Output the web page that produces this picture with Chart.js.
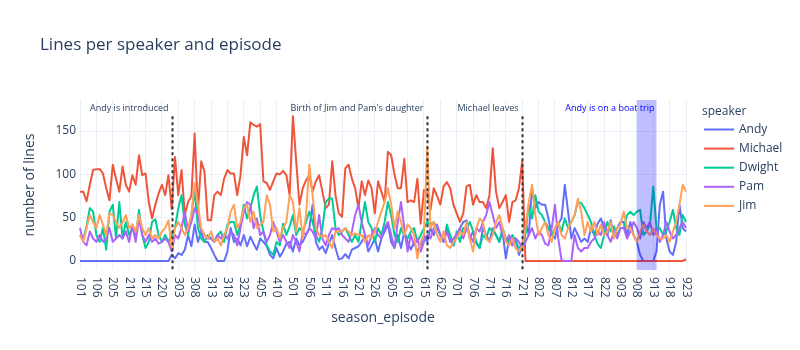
<!DOCTYPE html>
<html>
<head>
<meta charset="utf-8">
<script src="https://cdn.jsdelivr.net/npm/chart.js@4.4.0/dist/chart.umd.min.js"></script>
<style>
    html, body { margin: 0; padding: 0; background: #fff; }
    #wrap { width: 800px; height: 350px; }
</style>
</head>
<body>
<div id="wrap"><canvas id="chart" width="800" height="350"></canvas></div>
<script>
// Episodes (season + episode number), one category per episode
const episodes = [
    '101','102','103','104','105','106',
    '201','202','203','204','205','206','207','208','209','210','211','212','213','214','215','216','217','218','219','220','221','222',
    '301','302','303','304','305','306','307','308','309','310','311','312','313','314','315','316','317','318','319','320','321','322','323',
    '401','402','403','404','405','406','407','408','409','410','411','412','413','414',
    '501','502','503','504','505','506','507','508','509','510','511','512','513','514','515','516','517','518','519','520','521','522','523','524','525','526',
    '601','602','603','604','605','606','607','608','609','610','611','612','613','614','615','616','617','618','619','620','621','622','623','624',
    '701','702','703','704','705','706','707','708','709','710','711','712','713','714','715','716','717','718','719','720','721','722','723','724',
    '801','802','803','804','805','806','807','808','809','810','811','812','813','814','815','816','817','818','819','820','821','822','823','824',
    '901','902','903','904','905','906','907','908','909','910','911','912','913','914','915','916','917','918','919','920','921','922','923'
];

// Lines per episode, one array per speaker
const andy = [
    0,0,0,0,0,0,
    0,0,0,0,0,0,0,0,0,0,0,0,0,0,0,0,0,0,0,0,0,0,
    7,3,9,7,13,30,17,42,22,34,22,22,15,7,0,0,0,11,38,22,26,18,30,
    17,28,20,13,26,22,17,7,3,15,5,11,20,22,
    11,26,18,22,30,38,65,22,13,17,9,20,30,15,2,3,8,3,13,15,17,22,30,11,18,26,
    11,26,34,42,22,15,30,15,34,22,13,22,11,18,30,22,38,30,40,30,22,38,26,18,
    30,38,45,47,26,34,20,15,38,30,22,38,30,22,34,3,26,18,26,7,18,45,30,84,
    61,68,65,65,49,30,26,43,49,88,57,26,38,30,22,26,22,38,30,43,49,38,30,47,
    30,38,45,45,30,45,30,22,7,0,0,0,0,11,65,80,26,11,7,22,65,38,34
];
const michael = [
    80,80,69,88,105,106,
    106,101,84,70,111,95,80,109,88,80,99,88,122,99,101,68,49,65,78,88,76,99,
    60,120,76,105,53,68,75,147,57,115,103,47,47,76,80,76,95,105,101,101,76,99,143,
    122,160,157,155,158,92,90,82,92,101,100,104,99,76,
    167,115,65,84,93,99,80,92,99,80,61,65,115,76,55,51,107,111,95,84,61,92,76,93,84,55,
    92,80,68,126,122,100,84,84,118,68,70,68,95,43,82,78,59,84,75,65,86,91,84,65,
    55,45,55,86,88,65,76,68,68,61,76,130,80,61,68,76,45,68,70,84,115,0,0,0,
    0,0,0,0,0,0,0,0,0,0,0,0,0,0,0,0,0,0,0,0,0,0,0,0,
    0,0,0,0,0,0,0,0,0,0,0,0,0,0,0,0,0,0,0,0,0,0,2
];
const dwight = [
    30,25,40,61,57,30,
    22,38,13,57,65,26,68,26,45,30,38,26,59,30,15,22,45,48,30,22,30,22,
    30,38,61,76,42,30,53,82,38,26,22,30,26,22,30,34,22,42,45,45,30,42,65,
    49,61,76,86,53,34,18,11,7,22,18,43,30,40,
    53,30,38,34,45,57,45,30,22,38,68,72,72,38,30,34,38,30,22,30,22,45,68,45,38,22,
    38,30,45,68,53,30,22,38,30,26,34,38,22,30,38,45,42,45,38,30,22,42,30,18,
    34,22,38,38,45,34,22,15,30,26,38,34,30,22,38,26,22,30,22,15,18,30,65,49,
    76,57,53,45,38,30,38,45,34,49,38,45,53,68,67,61,53,45,30,20,15,30,45,34,
    40,30,38,38,53,57,53,57,59,30,34,42,86,38,38,30,34,45,59,38,30,53,45
];
const pam = [
    38,22,18,34,26,22,
    30,22,26,38,22,26,30,26,34,22,42,22,49,30,22,30,22,26,20,22,26,22,
    11,30,26,38,57,34,45,61,53,34,30,26,26,22,30,26,30,26,34,30,18,38,57,
    68,65,38,49,30,34,22,30,45,34,22,30,22,15,
    30,22,11,34,30,38,34,26,53,26,18,30,38,36,38,30,26,22,34,53,65,45,30,18,30,38,
    30,26,38,45,30,15,45,68,38,11,30,18,26,11,22,30,26,38,42,30,22,34,22,26,
    30,38,26,38,30,22,38,34,45,53,68,53,38,45,30,22,30,18,26,22,15,22,30,38,
    26,34,30,20,18,38,65,26,1,0,0,0,30,15,11,15,15,22,26,34,30,45,30,22,
    34,26,38,38,26,34,45,38,26,45,38,45,30,38,22,30,45,34,26,30,38,45,38
];
const jim = [
    30,22,38,53,45,38,
    53,42,30,55,53,45,38,45,53,38,42,34,53,38,30,38,26,30,26,34,38,47,
    15,38,45,38,30,38,53,90,65,38,30,26,34,22,26,18,30,38,57,65,38,45,61,
    65,45,57,38,42,45,76,65,34,38,26,38,45,76,
    68,34,61,26,53,111,76,38,30,28,30,22,15,34,34,34,38,34,30,32,30,30,22,30,26,34,
    45,57,68,84,65,38,57,45,30,42,38,30,3,22,30,132,38,45,30,22,34,18,15,22,
    26,34,30,45,26,11,38,49,45,26,22,30,45,53,38,22,18,26,15,11,17,38,68,88,
    53,30,38,45,30,22,38,45,30,26,38,45,53,72,57,30,45,34,45,30,42,30,34,45,
    26,38,42,57,38,38,30,22,34,42,34,30,38,30,26,26,30,22,34,45,65,88,80
];

const speakers = ['Andy', 'Michael', 'Dwight', 'Pam', 'Jim'];
const colors = ['#636efa', '#ef553b', '#00cc96', '#ab63fa', '#ffa15a'];
const seriesData = [andy, michael, dwight, pam, jim];

// Axis ticks
const xTickLabels = ['101','106','205','210','215','220','303','308','313','318','323','405','410',
    '501','506','511','516','521','526','605','610','615','620','701','706','711','716','721',
    '802','807','812','817','822','903','908','913','918','923'];
const yTicks = [0, 50, 100, 150];

// Events marked on the chart
const milestones = [
    { episode: '301', text: 'Andy is introduced' },
    { episode: '616', text: "Birth of Jim and Pam's daughter" },
    { episode: '721', text: 'Michael leaves' }
];
const boatTrip = { from: '908', to: '914', text: 'Andy is on a boat trip' };

const FONT = '"Open Sans", verdana, arial, sans-serif';
const TEXT_COLOR = '#2a3f5f';
const GRID_COLOR = '#ebf0f8';

Chart.defaults.font.family = FONT;
Chart.defaults.color = TEXT_COLOR;

const overlay = {
    id: 'overlay',
    beforeDraw(chart) {
        const ctx = chart.ctx;
        ctx.save();
        ctx.fillStyle = '#fff';
        ctx.fillRect(0, 0, chart.width, chart.height);
        ctx.restore();
    },
    afterDatasetsDraw(chart) {
        const { ctx, chartArea: area, scales: { x, y } } = chart;
        ctx.save();

        // boat trip band
        const bx0 = x.getPixelForValue(boatTrip.from);
        const bx1 = x.getPixelForValue(boatTrip.to);
        ctx.fillStyle = 'rgba(0, 0, 255, 0.25)';
        ctx.fillRect(bx0, area.top, bx1 - bx0, area.bottom - area.top);

        ctx.font = '9px ' + FONT;
        ctx.textBaseline = 'middle';
        ctx.textAlign = 'right';
        ctx.fillStyle = 'blue';
        ctx.fillText(boatTrip.text, bx1 - 2, area.top + 8);

        // dotted event lines, from the top value of the data down
        const maxValue = Math.max(...seriesData.map(s => Math.max(...s)));
        const lineTop = y.getPixelForValue(maxValue);
        ctx.strokeStyle = '#333';
        ctx.lineWidth = 2;
        ctx.setLineDash([3, 3]);
        ctx.fillStyle = TEXT_COLOR;
        milestones.forEach(m => {
            const px = Math.round(x.getPixelForValue(m.episode)) + 0.5;
            ctx.beginPath();
            ctx.moveTo(px, lineTop);
            ctx.lineTo(px, area.bottom);
            ctx.stroke();
            ctx.fillText(m.text, px - 4, area.top + 8);
        });
        ctx.restore();
    },
    afterDraw(chart) {
        const { ctx, chartArea: area, scales: { x } } = chart;
        ctx.save();
        ctx.fillStyle = TEXT_COLOR;

        // title
        ctx.font = '17px ' + FONT;
        ctx.textAlign = 'left';
        ctx.textBaseline = 'middle';
        ctx.fillText('Lines per speaker and episode', 40, 45);

        // x tick labels, rotated to read downwards
        ctx.font = '12px ' + FONT;
        xTickLabels.forEach(label => {
            const px = x.getPixelForValue(label);
            ctx.save();
            ctx.translate(px, area.bottom + 7);
            ctx.rotate(Math.PI / 2);
            ctx.textAlign = 'left';
            ctx.textBaseline = 'middle';
            ctx.fillText(label, 0, 0);
            ctx.restore();
        });

        // axis titles
        ctx.font = '14px ' + FONT;
        ctx.textAlign = 'center';
        ctx.fillText('season_episode', (area.left + area.right) / 2, 318);
        ctx.save();
        ctx.translate(30, (area.top + area.bottom) / 2);
        ctx.rotate(-Math.PI / 2);
        ctx.fillText('number of lines', 0, 0);
        ctx.restore();

        // legend
        ctx.textAlign = 'left';
        ctx.font = '12px ' + FONT;
        ctx.fillText('speaker', 702, 112);
        speakers.forEach((name, i) => {
            const ly = 129.5 + i * 19.1;
            ctx.strokeStyle = colors[i];
            ctx.lineWidth = 2;
            ctx.beginPath();
            ctx.moveTo(704, ly);
            ctx.lineTo(734, ly);
            ctx.stroke();
            ctx.fillStyle = TEXT_COLOR;
            ctx.fillText(name, 739, ly);
        });
        ctx.restore();
    }
};

new Chart(document.getElementById('chart'), {
    type: 'line',
    data: {
        labels: episodes,
        datasets: speakers.map((name, i) => ({
            label: name,
            data: seriesData[i],
            borderColor: colors[i],
            backgroundColor: colors[i],
            borderWidth: 2,
            borderJoinStyle: 'round',
            pointRadius: 0,
            tension: 0,
            order: speakers.length - i
        }))
    },
    options: {
        responsive: false,
        animation: false,
        devicePixelRatio: 1,
        layout: { padding: { top: 100, right: 114, bottom: 0, left: 0 } },
        plugins: {
            legend: { display: false },
            title: { display: false },
            tooltip: { enabled: false }
        },
        scales: {
            x: {
                offset: false,
                ticks: { display: false, autoSkip: false },
                grid: {
                    color: c => xTickLabels.includes(episodes[c.index]) ? GRID_COLOR : 'rgba(0,0,0,0)',
                    drawTicks: false
                },
                border: { display: false },
                afterFit: s => { s.height = 80; }
            },
            y: {
                min: -10.4,
                max: 185.8,
                afterBuildTicks: s => { s.ticks = yTicks.map(v => ({ value: v })); },
                ticks: { font: { size: 12 }, color: TEXT_COLOR, padding: 4 },
                grid: {
                    color: GRID_COLOR,
                    lineWidth: c => (c.tick && c.tick.value === 0) ? 2 : 1,
                    drawTicks: false
                },
                border: { display: false },
                afterFit: s => { s.width = 80; }
            }
        }
    },
    plugins: [overlay]
});
</script>
</body>
</html>
